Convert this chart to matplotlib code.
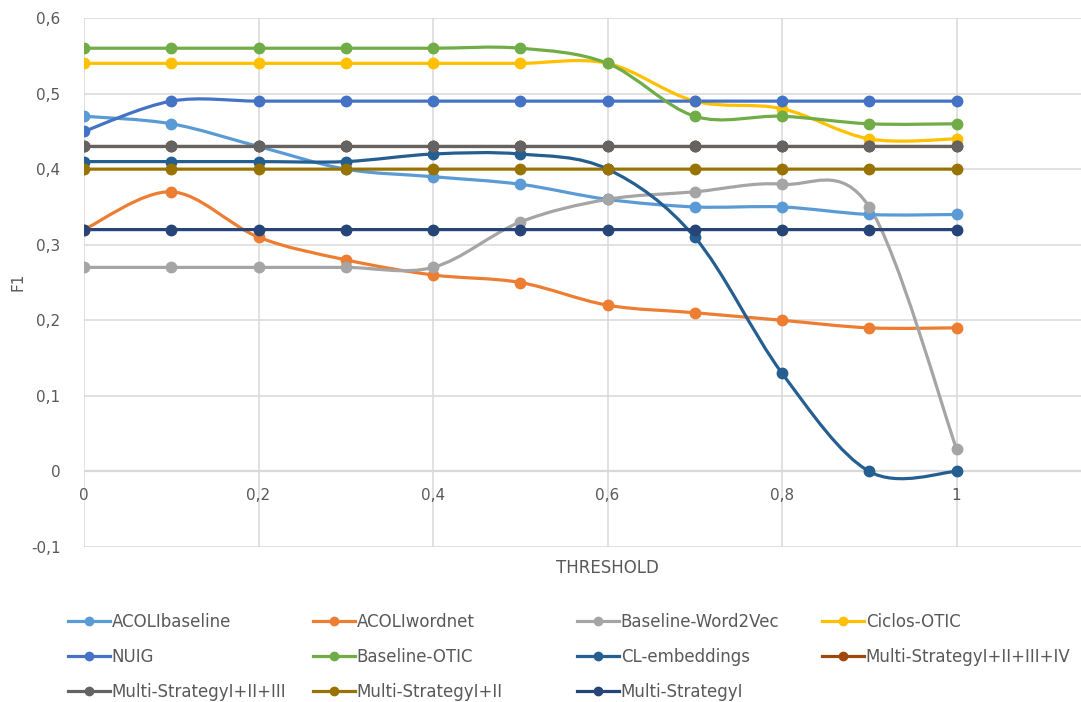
import numpy as np
import matplotlib.pyplot as plt
from matplotlib.path import Path
from matplotlib.patches import PathPatch
from matplotlib.lines import Line2D
from matplotlib.ticker import FuncFormatter

thresholds = [0, 0.1, 0.2, 0.3, 0.4, 0.5, 0.6, 0.7, 0.8, 0.9, 1.0]

acoli_baseline = [0.47, 0.46, 0.43, 0.40, 0.39, 0.38, 0.36, 0.35, 0.35, 0.34, 0.34]
acoli_wordnet = [0.32, 0.37, 0.31, 0.28, 0.26, 0.25, 0.22, 0.21, 0.20, 0.19, 0.19]
baseline_w2v = [0.27, 0.27, 0.27, 0.27, 0.27, 0.33, 0.36, 0.37, 0.38, 0.35, 0.03]
ciclos_otic = [0.54, 0.54, 0.54, 0.54, 0.54, 0.54, 0.54, 0.49, 0.48, 0.44, 0.44]
nuig = [0.45, 0.49, 0.49, 0.49, 0.49, 0.49, 0.49, 0.49, 0.49, 0.49, 0.49]
baseline_otic = [0.56, 0.56, 0.56, 0.56, 0.56, 0.56, 0.54, 0.47, 0.47, 0.46, 0.46]
cl_embeddings = [0.41, 0.41, 0.41, 0.41, 0.42, 0.42, 0.40, 0.31, 0.13, 0.00, 0.00]
ms_1234 = [0.43] * 11
ms_123 = [0.43] * 11
ms_12 = [0.40] * 11
ms_1 = [0.32] * 11

names = ['ACOLIbaseline', 'ACOLIwordnet', 'Baseline-Word2Vec', 'Ciclos-OTIC',
         'NUIG', 'Baseline-OTIC', 'CL-embeddings', 'Multi-StrategyI+II+III+IV',
         'Multi-StrategyI+II+III', 'Multi-StrategyI+II', 'Multi-StrategyI']
series = [acoli_baseline, acoli_wordnet, baseline_w2v, ciclos_otic, nuig,
          baseline_otic, cl_embeddings, ms_1234, ms_123, ms_12, ms_1]
colors = ['#5B9BD5', '#ED7D31', '#A5A5A5', '#FFC000', '#4472C4', '#70AD47',
          '#255E91', '#9E480E', '#636363', '#997300', '#264478']

plt.rcParams['font.family'] = ['DejaVu Sans']


def smooth_path(x, y):
    # catmull-rom style bezier, like Excel's smoothed line
    pts = np.column_stack([x, y]).astype(float)
    n = len(pts)
    verts = [pts[0]]
    codes = [Path.MOVETO]
    for i in range(n - 1):
        p0 = pts[i - 1] if i > 0 else pts[i]
        p1 = pts[i]
        p2 = pts[i + 1]
        p3 = pts[i + 2] if i + 2 < n else pts[i + 1]
        c1 = p1 + (p2 - p0) / 6
        c2 = p2 - (p3 - p1) / 6
        verts += [c1, c2, p2]
        codes += [Path.CURVE4] * 3
    return Path(verts, codes)


fig = plt.figure(figsize=(10.81, 7.02), dpi=100)
ax = fig.add_axes([84 / 1081, 1 - 547 / 702, (1131 - 84) / 1081, (547 - 18) / 702])

for name, vals, c in zip(names, series, colors):
    ax.add_patch(PathPatch(smooth_path(thresholds, vals), fill=False,
                           edgecolor=c, lw=2.3, capstyle='round'))
    ax.plot(thresholds, vals, linestyle='none', marker='o', ms=7.5,
            color=c, label=name)

ax.set_xlim(0, 1.2)
ax.set_ylim(-0.1, 0.6)
ax.set_xticks([0, 0.2, 0.4, 0.6, 0.8, 1.0])
ax.set_yticks([-0.1, 0, 0.1, 0.2, 0.3, 0.4, 0.5, 0.6])

fmt = FuncFormatter(lambda v, p: ('%g' % round(v, 2)).replace('.', ','))
ax.xaxis.set_major_formatter(fmt)
ax.yaxis.set_major_formatter(fmt)

ax.grid(True, color='#D9D9D9', lw=1.1)
ax.set_axisbelow(True)
for s in ax.spines.values():
    s.set_visible(False)
ax.axhline(0, color='#D9D9D9', lw=1.6, zorder=0.5)
ax.spines['bottom'].set_position(('data', 0))

ax.tick_params(axis='both', length=0, labelsize=11, labelcolor='#595959')
ax.tick_params(axis='x', pad=12)
ax.tick_params(axis='y', pad=17)

ax.text(0.5, -0.022, 'THRESHOLD', transform=ax.transAxes, ha='center', va='top',
        fontsize=12, color='#595959')
fig.text(18 / 1081, 1 - 282 / 702, 'F1', rotation=90, ha='center', va='center',
         fontsize=11, color='#595959')

# legend: 4 columns, row-major like Excel
col_x = [68, 313, 577, 822]
for col in range(4):
    idx = list(range(col, len(names), 4))
    hs = [Line2D([], [], color=colors[i], lw=2.3, marker='o', ms=6) for i in idx]
    leg = fig.legend(hs, [names[i] for i in idx], loc='upper left',
                     bbox_to_anchor=(col_x[col] / 1081, 1 - 613 / 702),
                     frameon=False, fontsize=12, labelcolor='#595959',
                     handlelength=2.5, handletextpad=0.12, labelspacing=1.02,
                     borderaxespad=0, borderpad=0)

fig.savefig('out.png', dpi=100)
